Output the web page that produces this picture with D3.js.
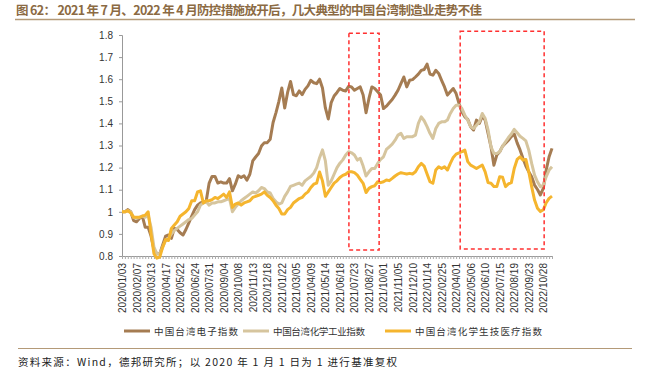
<!DOCTYPE html>
<html>
<head>
<meta charset="utf-8">
<script src="https://cdn.jsdelivr.net/npm/d3@7.9.0/dist/d3.min.js"></script>
<style>
  body { margin: 0; background: #fff; }
  svg { display: block; }
  text { font-family: "Liberation Sans", Arial, "Noto Sans CJK SC", sans-serif; }
  .cjk { font-family: "Noto Sans CJK SC", sans-serif; }
</style>
</head>
<body>
<svg id="chart" width="649" height="386"></svg>
<script>
// weekly index values, 2020/01/03 .. 2022/11/18 (149 weeks, LNY weeks skipped)
const tickLabels = ['2020/01/03','2020/02/07','2020/03/13','2020/04/17','2020/05/22','2020/06/24',
  '2020/07/31','2020/09/04','2020/10/08','2020/11/13','2020/12/18','2021/01/22','2021/03/05',
  '2021/04/09','2021/05/14','2021/06/18','2021/07/23','2021/08/27','2021/10/01','2021/11/05',
  '2021/12/10','2022/01/14','2022/02/25','2022/04/01','2022/05/06','2022/06/10','2022/07/15',
  '2022/08/19','2022/09/23','2022/10/28'];

const seriesNames = ['中国台湾电子指数', '中国台湾化学工业指数', '中国台湾化学生技医疗指数'];

const electronics = [
  1.00,1.00,1.01,1.00,0.96,0.955,0.97,0.98,0.93,0.93,
  0.89,0.83,0.81,0.81,0.85,0.89,0.895,0.88,0.925,0.92,
  0.905,0.895,0.92,0.95,0.98,1.01,1.03,1.04,1.045,1.05,
  1.13,1.16,1.16,1.13,1.135,1.13,1.13,1.15,1.095,1.125,
  1.163,1.155,1.163,1.143,1.17,1.23,1.248,1.264,1.298,1.313,
  1.313,1.328,1.404,1.449,1.50,1.56,1.47,1.54,1.59,1.53,
  1.525,1.547,1.53,1.554,1.57,1.595,1.584,1.58,1.60,1.56,
  1.47,1.42,1.494,1.524,1.54,1.558,1.55,1.547,1.568,1.565,
  1.55,1.558,1.565,1.528,1.448,1.513,1.565,1.558,1.543,1.528,
  1.467,1.478,1.493,1.508,1.528,1.55,1.58,1.61,1.565,1.595,
  1.598,1.61,1.623,1.64,1.644,1.668,1.623,1.618,1.64,1.626,
  1.595,1.565,1.528,1.543,1.558,1.535,1.49,1.452,1.43,1.418,
  1.385,1.37,1.415,1.40,1.433,1.415,1.355,1.294,1.211,1.257,
  1.272,1.297,1.31,1.324,1.34,1.352,1.312,1.28,1.242,1.207,
  1.181,1.159,1.121,1.101,1.076,1.106,1.189,1.249,1.287
];

const chemicals = [
  1.00,1.00,1.005,1.00,0.975,0.97,0.975,0.98,0.975,0.985,
  0.93,0.84,0.81,0.81,0.84,0.87,0.88,0.90,0.915,0.925,
  0.935,0.945,0.955,0.965,0.97,0.985,1.00,1.03,1.04,1.045,
  1.03,1.04,1.04,1.045,1.045,1.05,1.055,1.06,1.00,1.02,
  1.035,1.05,1.06,1.07,1.08,1.09,1.085,1.095,1.11,1.105,
  1.09,1.085,1.06,1.045,1.035,1.04,1.07,1.09,1.115,1.12,
  1.125,1.13,1.12,1.14,1.15,1.16,1.175,1.20,1.245,1.28,
  1.23,1.12,1.14,1.17,1.20,1.22,1.235,1.257,1.272,1.267,
  1.257,1.234,1.242,1.207,1.162,1.181,1.196,1.196,1.219,1.237,
  1.249,1.282,1.294,1.306,1.324,1.347,1.355,1.332,1.34,1.34,
  1.34,1.347,1.40,1.43,1.412,1.385,1.355,1.332,1.377,1.40,
  1.407,1.407,1.415,1.445,1.467,1.482,1.482,1.467,1.437,1.415,
  1.385,1.377,1.392,1.407,1.445,1.422,1.37,1.294,1.264,1.264,
  1.272,1.297,1.317,1.336,1.352,1.373,1.358,1.342,1.332,1.321,
  1.279,1.219,1.166,1.136,1.114,1.121,1.159,1.189,1.204
];

const biotech = [
  1.00,1.00,1.005,0.995,0.975,0.975,0.975,0.98,0.985,1.00,
  0.90,0.81,0.79,0.795,0.84,0.875,0.87,0.925,0.94,0.955,
  0.98,0.99,1.00,1.015,1.05,1.05,1.09,1.095,1.04,1.05,
  1.05,1.055,1.065,1.06,1.07,1.08,1.065,1.09,1.02,1.035,
  1.04,1.03,1.04,1.045,1.05,1.065,1.07,1.075,1.08,1.09,
  1.075,1.065,1.05,1.03,1.015,0.99,0.99,1.01,1.02,1.04,
  1.05,1.06,1.065,1.08,1.09,1.11,1.125,1.13,1.18,1.14,
  1.07,1.09,1.11,1.13,1.14,1.155,1.165,1.17,1.181,1.181,
  1.177,1.166,1.147,1.129,1.087,1.106,1.114,1.118,1.136,1.132,
  1.136,1.144,1.141,1.151,1.162,1.171,1.177,1.174,1.171,1.174,
  1.171,1.181,1.204,1.219,1.207,1.171,1.136,1.129,1.189,1.204,
  1.196,1.204,1.189,1.219,1.246,1.261,1.267,1.272,1.279,1.227,
  1.211,1.204,1.196,1.204,1.211,1.181,1.132,1.129,1.114,1.114,
  1.159,1.156,1.114,1.126,1.132,1.196,1.237,1.249,1.234,1.237,
  1.181,1.114,1.053,1.016,1.001,1.009,1.041,1.061,1.071
];

// dashed boxes: reopening periods (week index range, value range)
const highlights = [
  { from: 78.1, to: 88.5, top: 1.808, bottom: 0.827 },
  { from: 116.4, to: 145.3, top: 1.817, bottom: 0.832 }
];

const colors = ['#a57c52', '#d6c59e', '#f5b52e'];
const series = [electronics, chemicals, biotech];

const svg = d3.select('#chart');
const n = electronics.length;

const x = d3.scaleLinear().domain([0, n - 1]).range([122, 552]);
const y = d3.scaleLinear().domain([0.8, 1.8]).range([256, 35]);

// title
svg.append('text')
  .attr('class', 'cjk')
  .attr('x', 16).attr('y', 15)
  .attr('fill', '#8b6a43')
  .attr('font-size', 12.5)
  .attr('font-weight', 'bold')
  .attr('textLength', 466)
  .attr('lengthAdjust', 'spacing')
  .text('图 62：  2021 年 7 月、2022 年 4 月防控措施放开后，几大典型的中国台湾制造业走势不佳');
svg.append('line').attr('x1', 15).attr('x2', 635).attr('y1', 19.5).attr('y2', 19.5)
  .attr('stroke', '#b49a78').attr('stroke-width', 1.5);

// y axis
const yAxis = svg.append('g')
  .attr('transform', 'translate(122,0)')
  .call(d3.axisLeft(y).tickValues(d3.range(0.8, 1.81, 0.1)).tickSize(3)
    .tickFormat(d => String(+d.toFixed(1))));
yAxis.select('.domain').attr('stroke', '#999');
yAxis.selectAll('.tick line').attr('stroke', '#999');
yAxis.selectAll('.tick text').attr('font-size', 10).attr('fill', '#333')
  .attr('font-family', '"Liberation Sans", Arial, sans-serif').attr('dx', -3);

// x axis: small tick each week, label every 5th
const xAxis = svg.append('g')
  .attr('transform', 'translate(0,256)')
  .call(d3.axisBottom(x).tickValues(d3.range(n)).tickSize(3).tickSizeOuter(0)
    .tickFormat(i => (i % 5 === 0 && tickLabels[i / 5]) ? tickLabels[i / 5] : ''));
xAxis.select('.domain').attr('stroke', '#999');
xAxis.selectAll('.tick line').attr('stroke', '#aaa');
xAxis.selectAll('.tick text')
  .attr('font-size', 10).attr('fill', '#333')
  .attr('font-family', '"Liberation Sans", Arial, sans-serif')
  .attr('transform', 'rotate(-90)')
  .attr('text-anchor', 'end')
  .attr('x', -7).attr('y', 0).attr('dy', '0.35em');

// lines
const line = d3.line().x((d, i) => x(i)).y(d => y(d));
series.forEach((s, k) => {
  svg.append('path')
    .datum(s)
    .attr('d', line)
    .attr('fill', 'none')
    .attr('stroke', colors[k])
    .attr('stroke-width', 3)
    .attr('stroke-linejoin', 'round');
});

// dashed red boxes
highlights.forEach(h => {
  svg.append('rect')
    .attr('x', x(h.from)).attr('y', y(h.top))
    .attr('width', x(h.to) - x(h.from)).attr('height', y(h.bottom) - y(h.top))
    .attr('fill', 'none')
    .attr('stroke', '#ff3030')
    .attr('stroke-width', 1.5)
    .attr('stroke-dasharray', '4,3');
});

// legend
const legendX = [124, 243, 385];
const legendLen = [84, 92, 127];
seriesNames.forEach((name, k) => {
  const g = svg.append('g').attr('transform', `translate(${legendX[k]},331)`);
  g.append('line').attr('x1', 0).attr('x2', 26).attr('stroke', colors[k]).attr('stroke-width', 3);
  g.append('text').attr('class', 'cjk')
    .attr('x', 30).attr('y', 3.5)
    .attr('font-size', 9.5).attr('fill', '#333')
    .attr('textLength', legendLen[k])
    .attr('lengthAdjust', 'spacing')
    .text(name);
});

// footer
svg.append('line').attr('x1', 18).attr('x2', 632).attr('y1', 348.5).attr('y2', 348.5)
  .attr('stroke', '#b49a78').attr('stroke-width', 1.2);
svg.append('text').attr('class', 'cjk')
  .attr('x', 18).attr('y', 366)
  .attr('font-size', 10.5).attr('fill', '#222')
  .attr('textLength', 379)
  .attr('lengthAdjust', 'spacing')
  .text('资料来源：Wind，德邦研究所；以 2020 年 1 月 1 日为 1 进行基准复权');
</script>
</body>
</html>
